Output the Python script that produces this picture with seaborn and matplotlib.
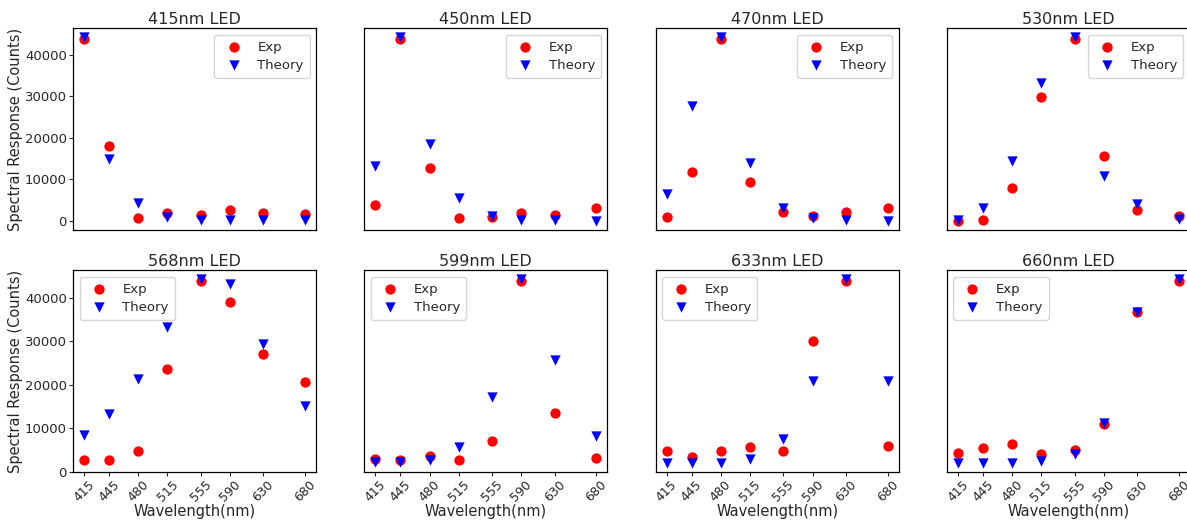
import matplotlib
matplotlib.use("Agg")
import matplotlib.pyplot as plt
import seaborn as sns
import numpy as np
import pandas as pd

sns.set_style("ticks")
plt.rcParams['font.family'] = ['DejaVu Sans']

wavelengths = [415, 445, 480, 515, 555, 590, 630, 680]
led_titles = ["415nm LED", "450nm LED", "470nm LED", "530nm LED",
              "568nm LED", "599nm LED", "633nm LED", "660nm LED"]

exp_415 = [43840, 18000, 800, 1840, 1360, 2640, 1920, 1760]
theory_415 = [44160, 14800, 4240, 1040, 240, 240, 240, 200]
exp_450 = [3840, 43840, 12640, 800, 960, 1840, 1520, 3120]
theory_450 = [13200, 44160, 18560, 5440, 1200, 240, 240, 80]
exp_470 = [960, 11840, 43840, 9360, 2240, 1120, 2160, 3120]
theory_470 = [6560, 27600, 44160, 13920, 3200, 720, 320, 80]
exp_530 = [0, 320, 7920, 29760, 43840, 15680, 2560, 1200]
theory_530 = [240, 3200, 14400, 33200, 44160, 10800, 4000, 400]
exp_568 = [2590, 2590, 4800, 23620, 44000, 39160, 27120, 20650]
theory_568 = [8380, 13330, 21330, 33370, 44300, 43200, 29330, 15090]
exp_599 = [2970, 2740, 3730, 2740, 7090, 44000, 13560, 3280]
theory_599 = [2200, 2200, 2600, 5640, 17140, 44300, 25750, 8300]
exp_633 = [4800, 3430, 4880, 5790, 4800, 30100, 44000, 5870]
theory_633 = [2050, 2050, 2050, 2900, 7470, 20880, 44300, 20880]
exp_660 = [4420, 5490, 6320, 4110, 4950, 10970, 36650, 44000]
theory_660 = [2050, 2050, 2050, 2400, 4040, 11120, 36650, 44300]

exp_all = [exp_415, exp_450, exp_470, exp_530, exp_568, exp_599, exp_633, exp_660]
theory_all = [theory_415, theory_450, theory_470, theory_530,
              theory_568, theory_599, theory_633, theory_660]

fig, axes = plt.subplots(2, 4, figsize=(11.87, 5.21), dpi=100,
                         sharex=True, sharey='row')
fig.subplots_adjust(left=0.0615, right=1.0025, top=0.946, bottom=0.094,
                    wspace=0.1975, hspace=0.198)

for i, ax in enumerate(axes.flat):
    df = pd.DataFrame({"wl": wavelengths, "exp": exp_all[i], "theory": theory_all[i]})
    sns.scatterplot(data=df, x="wl", y="exp", ax=ax, color="red", marker="o",
                    s=55, linewidth=0, label="Exp")
    sns.scatterplot(data=df, x="wl", y="theory", ax=ax, color="blue", marker="v",
                    s=55, linewidth=0, label="Theory")
    ax.set_title(led_titles[i], fontsize=11.5, pad=3)
    ax.set_xlabel("")
    ax.set_ylabel("")
    ax.set_xticks(wavelengths)
    ax.tick_params(axis='y', labelsize=9.5, pad=1.5, length=3)
    ax.tick_params(axis='x', labelsize=9, pad=1.5, length=3)
    for sp in ax.spines.values():
        sp.set_color("black")
        sp.set_linewidth(0.9)
    loc = "upper right" if i < 4 else "upper left"
    ax.legend(loc=loc, fontsize=9.5, handletextpad=0.8, borderpad=0.45,
              labelspacing=0.4)
    if i >= 4:
        ax.set_xlabel("Wavelength(nm)", fontsize=10.5, labelpad=0)
        ax.set_xticks(wavelengths)
        ax.set_xticklabels([str(w) for w in wavelengths], rotation=45)
    if i % 4 == 0:
        ax.set_ylabel("Spectral Response (Counts)", fontsize=10.5, labelpad=1)
    else:
        ax.tick_params(axis='y', left=False, labelleft=False)
    if i < 4:
        ax.tick_params(axis='x', bottom=False)

fig.savefig("out.png", dpi=100)
